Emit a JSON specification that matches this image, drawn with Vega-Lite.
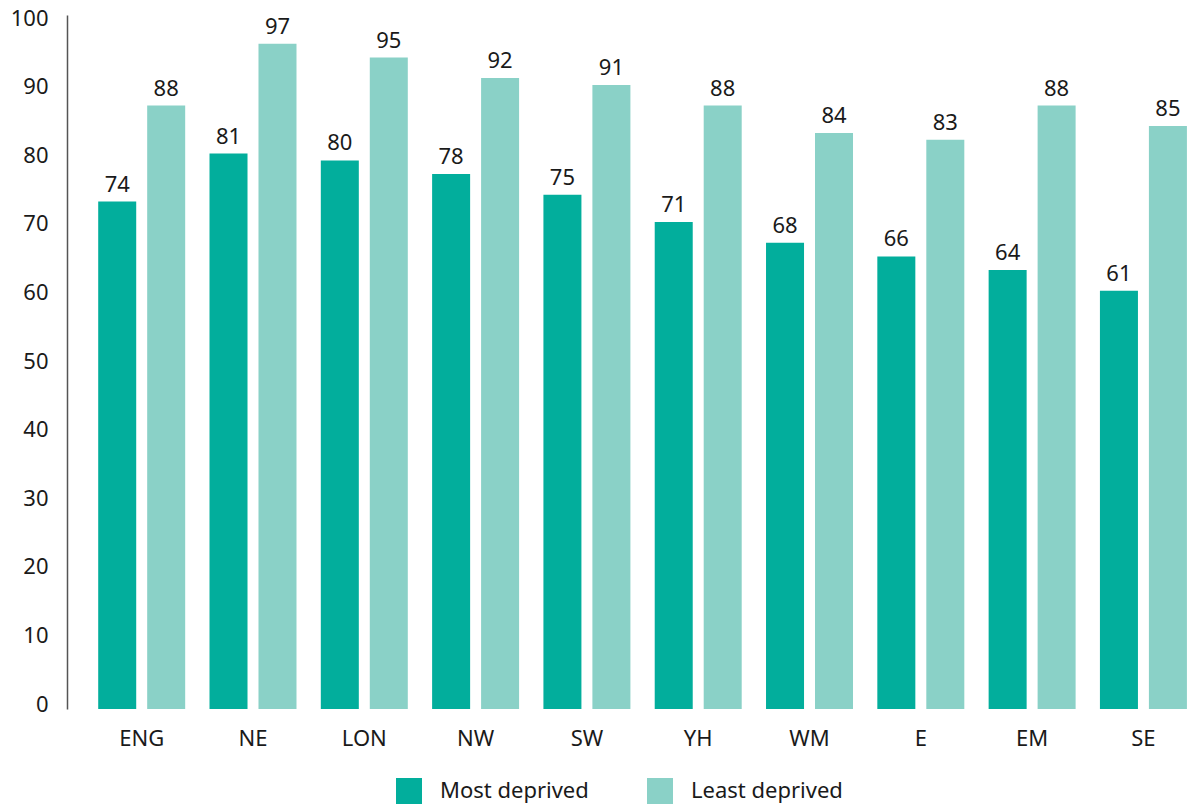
{
  "$schema": "https://vega.github.io/schema/vega-lite/v6.json",
  "width": 1125,
  "height": 694,
  "autosize": "none",
  "padding": {"left": 67, "top": 15, "right": 0, "bottom": 100},
  "background": "white",
  "config": {
    "view": {"stroke": null},
    "font": "Noto Sans",
    "axis": {"labelFont": "Noto Sans", "labelFontSize": 22, "labelColor": "#1a1a1a"}
  },
  "data": {
    "values": [
      {"region": "ENG", "group": "Most deprived", "value": 74},
      {"region": "ENG", "group": "Least deprived", "value": 88},
      {"region": "NE", "group": "Most deprived", "value": 81},
      {"region": "NE", "group": "Least deprived", "value": 97},
      {"region": "LON", "group": "Most deprived", "value": 80},
      {"region": "LON", "group": "Least deprived", "value": 95},
      {"region": "NW", "group": "Most deprived", "value": 78},
      {"region": "NW", "group": "Least deprived", "value": 92},
      {"region": "SW", "group": "Most deprived", "value": 75},
      {"region": "SW", "group": "Least deprived", "value": 91},
      {"region": "YH", "group": "Most deprived", "value": 71},
      {"region": "YH", "group": "Least deprived", "value": 88},
      {"region": "WM", "group": "Most deprived", "value": 68},
      {"region": "WM", "group": "Least deprived", "value": 84},
      {"region": "E", "group": "Most deprived", "value": 66},
      {"region": "E", "group": "Least deprived", "value": 83},
      {"region": "EM", "group": "Most deprived", "value": 64},
      {"region": "EM", "group": "Least deprived", "value": 88},
      {"region": "SE", "group": "Most deprived", "value": 61},
      {"region": "SE", "group": "Least deprived", "value": 85}
    ]
  },
  "encoding": {
    "x": {
      "field": "region",
      "type": "nominal",
      "sort": null,
      "scale": {"paddingInner": 0.2185, "paddingOuter": 0.163, "align": 0.86},
      "axis": {"title": null, "domain": false, "ticks": false, "labelAngle": 0, "labelPadding": 19}
    },
    "xOffset": {
      "field": "group",
      "type": "nominal",
      "sort": ["Most deprived", "Least deprived"],
      "scale": {"paddingInner": 0.224, "paddingOuter": 0}
    },
    "y": {
      "field": "value",
      "type": "quantitative",
      "scale": {"domain": [0, 101.2], "nice": false},
      "axis": {
        "title": null,
        "values": [0, 10, 20, 30, 40, 50, 60, 70, 80, 90, 100],
        "grid": false,
        "ticks": false,
        "domainColor": "#555555",
        "domainWidth": 1.5,
        "labelPadding": 19,
        "labelOffset": -5
      }
    }
  },
  "layer": [
    {
      "mark": {"type": "bar"},
      "encoding": {
        "color": {
          "field": "group",
          "type": "nominal",
          "sort": ["Most deprived", "Least deprived"],
          "scale": {"domain": ["Most deprived", "Least deprived"], "range": ["#02AE9C", "#8AD1C7"]},
          "legend": {
            "title": null,
            "orient": "none",
            "direction": "horizontal",
            "legendX": 329,
            "legendY": 763,
            "symbolType": "square",
            "symbolSize": 676,
            "symbolStrokeWidth": 0,
            "symbolOpacity": 1,
            "labelFont": "Noto Sans",
            "labelFontSize": 22,
            "labelColor": "#1a1a1a",
            "labelOffset": 18,
            "columnPadding": 58
          }
        }
      }
    },
    {
      "mark": {"type": "text", "baseline": "alphabetic", "dy": -10, "fontSize": 22, "font": "Noto Sans", "color": "#1a1a1a"},
      "encoding": {
        "text": {"field": "value", "type": "quantitative"}
      }
    }
  ]
}
